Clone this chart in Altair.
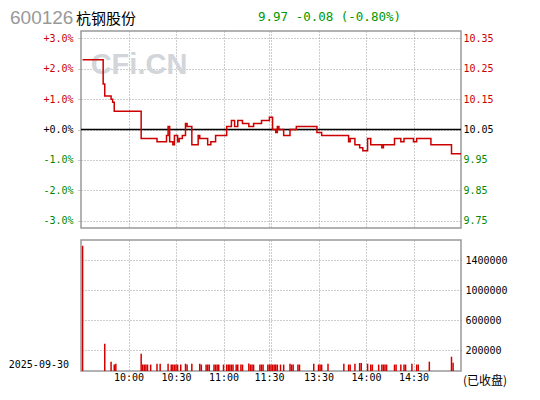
import altair as alt
import pandas as pd

# ---------------- data ----------------
CODE = "600126"
NAME = "杭钢股份"
QUOTE = "9.97 -0.08 (-0.80%)"
DATE = "2025-09-30"
STATUS = "(已收盘)"
WATERMARK = "CFi.CN"
PREV_CLOSE = 10.05

# price change points (minute index from 9:30, price)
PRICE_MIN = [1, 14, 15, 19, 20, 21, 38, 48, 54, 55, 56, 58, 59, 61, 62, 64, 66, 67, 70, 74,
             75, 80, 82, 85, 92, 95, 97, 99, 102, 106, 109, 114, 119, 121, 123, 124, 125, 128,
             132, 136, 149, 152, 169, 170, 173, 176, 178, 181, 183, 190, 191, 198, 202, 204,
             210, 212, 221, 234, 240]
PRICE = [10.28, 10.20, 10.16, 10.15, 10.14, 10.11, 10.02, 10.01, 10.03, 10.06, 10.01, 10.00,
         10.03, 10.01, 10.02, 10.03, 10.07, 10.06, 10.00, 10.03, 10.02, 10.00, 10.01, 10.03,
         10.06, 10.08, 10.06, 10.08, 10.07, 10.06, 10.07, 10.08, 10.09, 10.05, 10.04, 10.06,
         10.05, 10.03, 10.05, 10.06, 10.04, 10.03, 10.01, 10.02, 10.00, 9.99, 9.98, 10.02,
         10.00, 9.99, 10.00, 10.02, 10.01, 10.02, 10.01, 10.02, 10.00, 9.97, 9.97]

VOL_MIN = [1, 15, 19, 21, 22, 38, 39, 40, 41, 42, 44, 48, 50, 55, 57, 58, 59, 60, 61, 63, 66,
           67, 70, 75, 76, 79, 80, 81, 84, 85, 86, 87, 90, 92, 93, 94, 95, 96, 98, 99, 101,
           102, 106, 107, 108, 109, 113, 114, 115, 118, 119, 120, 121, 122, 123, 124, 126,
           128, 132, 133, 134, 137, 138, 147, 150, 151, 152, 156, 166, 169, 170, 173, 176,
           177, 181, 183, 184, 188, 190, 191, 192, 193, 198, 199, 202, 204, 205, 209, 212,
           213, 220, 234, 235]
VOLUME = [1590000, 284000, 44000, 8000, 17000, 150000, 6000, 6000, 6000, 6000, 6000, 17000,
          17000, 17000, 6000, 6000, 6000, 6000, 6000, 6000, 17000, 6000, 17000, 17000, 6000,
          6000, 6000, 6000, 6000, 6000, 6000, 6000, 6000, 6000, 6000, 6000, 6000, 6000, 6000,
          6000, 6000, 6000, 20000, 6000, 6000, 6000, 6000, 6000, 6000, 6000, 6000, 6000, 6000,
          6000, 6000, 6000, 6000, 6000, 17000, 6000, 6000, 6000, 6000, 17000, 6000, 6000, 6000,
          17000, 17000, 6000, 6000, 17000, 27000, 27000, 17000, 6000, 6000, 6000, 6000, 6000,
          6000, 6000, 6000, 6000, 6000, 6000, 6000, 17000, 6000, 6000, 44000, 110000, 30000]

PCT_TICKS = [-3, -2, -1, 0, 1, 2, 3]
PRICE_TICKS = [9.75, 9.85, 9.95, 10.05, 10.15, 10.25, 10.35]
VOL_TICKS = [200000, 600000, 1000000, 1400000]
TIME_TICKS = [30, 60, 90, 118.7, 120.2, 150, 180, 210]
TIME_LABELS = ["10:00", "10:30", "11:00", "11:30", "", "13:30", "14:00", "14:30"]

PCT_HALF = 3.23
VOL_FLOOR = -80000
VOL_TOP = 1666667

RED = "#cc0000"
GREEN = "#008800"
GRID = "#9a9a9a"
MONO = "DejaVu Sans Mono"

W = 380
H_TOP = 197
H_BOT = 131

price_df = pd.DataFrame({"minute": PRICE_MIN, "price": PRICE})
vol_df = pd.DataFrame({"minute": VOL_MIN, "volume": VOLUME})

time_expr = " : ".join(
    f"abs(datum.value - {v}) < 0.01 ? '{l}'" for v, l in zip(TIME_TICKS, TIME_LABELS)
) + " : ''"


def x_scale():
    return alt.Scale(domain=[0, 240], nice=False, zero=False, padding=0)


def color_cond(center):
    return {
        "condition": [
            {"test": f"datum.value > {center} + 0.001", "value": RED},
            {"test": f"datum.value < {center} - 0.001", "value": GREEN},
        ],
        "value": "black",
    }

# ---------------- top panel ----------------
zero_rule = alt.Chart(pd.DataFrame({"pct": [0]})).mark_rule(
    color="black", strokeWidth=1.5
).encode(
    y=alt.Y("pct:Q",
            scale=alt.Scale(domain=[-PCT_HALF, PCT_HALF], nice=False, zero=False, padding=0),
            axis=alt.Axis(orient="left", values=PCT_TICKS, title=None, domain=False,
                          grid=True, gridDash=[1, 2], gridColor=GRID,
                          ticks=True, tickSize=4, tickDash=[1, 1], tickColor=GRID,
                          labelPadding=4,
                          labelExpr="(datum.value < 0 ? '-' : '+') + format(abs(datum.value), '.1f') + '%'",
                          labelColor=color_cond(0)))
)

p_lo = PREV_CLOSE * (1 - PCT_HALF / 100)
p_hi = PREV_CLOSE * (1 + PCT_HALF / 100)

watermark = alt.Chart(pd.DataFrame({"t": [WATERMARK]})).mark_text(
    font="Liberation Sans", fontSize=29, fontWeight="bold", color="#d2d5da",
    align="center", baseline="middle"
).encode(text="t:N", x=alt.value(58), y=alt.value(34))

price_line = alt.Chart(price_df).mark_line(
    interpolate="step-after", color=RED, strokeWidth=1.5
).encode(
    x=alt.X("minute:Q", scale=x_scale(),
            axis=alt.Axis(values=TIME_TICKS, labels=False, ticks=False, domain=False,
                          title=None, grid=True, gridDash=[1, 2], gridColor=GRID)),
    y=alt.Y("price:Q", scale=alt.Scale(domain=[p_lo, p_hi], nice=False, zero=False, padding=0),
            axis=alt.Axis(orient="right", values=PRICE_TICKS, format=".2f", title=None,
                          domain=False, ticks=False, grid=False, labelPadding=2,
                          labelColor=color_cond(PREV_CLOSE)))
)

code_txt = alt.Chart(pd.DataFrame({"t": [CODE]})).mark_text(
    font="Liberation Sans", fontSize=19, color="#999999", align="left", baseline="middle"
).encode(text="t:N", x=alt.value(-71), y=alt.value(-13))

name_txt = alt.Chart(pd.DataFrame({"t": [NAME]})).mark_text(
    font="Noto Sans CJK SC", fontSize=15, color="black", align="left", baseline="middle"
).encode(text="t:N", x=alt.value(-5), y=alt.value(-12))

quote_txt = alt.Chart(pd.DataFrame({"t": [QUOTE]})).mark_text(
    font=MONO, fontSize=12.5, color="#009900", align="left", baseline="middle"
).encode(text="t:N", x=alt.value(177), y=alt.value(-14))

top = alt.layer(watermark, zero_rule, price_line, code_txt, name_txt, quote_txt).resolve_scale(
    y="independent"
).properties(width=W, height=H_TOP)

# ---------------- bottom panel ----------------
bars = alt.Chart(vol_df).mark_bar(color="#d40000", size=1.5).encode(
    x=alt.X("minute:Q", scale=x_scale(),
            axis=alt.Axis(values=TIME_TICKS, labelExpr=time_expr, ticks=False, domain=False,
                          title=None, grid=True, gridDash=[1, 2], gridColor=GRID,
                          labelPadding=1, labelColor="black", labelFlush=False)),
    y=alt.Y("volume:Q",
            scale=alt.Scale(domain=[VOL_FLOOR, VOL_TOP], nice=False, zero=False, padding=0),
            axis=alt.Axis(orient="right", values=VOL_TICKS, format="d", title=None,
                          domain=False, ticks=False, grid=True, gridDash=[1, 2],
                          gridColor=GRID, labelPadding=4, labelColor="black")),
    y2=alt.datum(VOL_FLOOR),
)

date_txt = alt.Chart(pd.DataFrame({"t": [DATE]})).mark_text(
    font=MONO, fontSize=10, color="black", align="right", baseline="middle"
).encode(text="t:N", x=alt.value(-12), y=alt.value(125))

status_txt = alt.Chart(pd.DataFrame({"t": [STATUS]})).mark_text(
    font="Noto Sans CJK SC", fontSize=12, color="black", align="left", baseline="middle"
).encode(text="t:N", x=alt.value(382), y=alt.value(141))

bottom = alt.layer(bars, date_txt, status_txt).properties(width=W, height=H_BOT)

chart = alt.vconcat(top, bottom, spacing=10).properties(
    padding={"left": 0, "top": 0, "right": 5, "bottom": 5},
    background="white",
).configure_view(
    stroke="#999999", strokeWidth=1.5
).configure_axis(
    labelFont=MONO, labelFontSize=10
)

chart.save("out.html", embed_options={"renderer": "svg", "actions": False})
